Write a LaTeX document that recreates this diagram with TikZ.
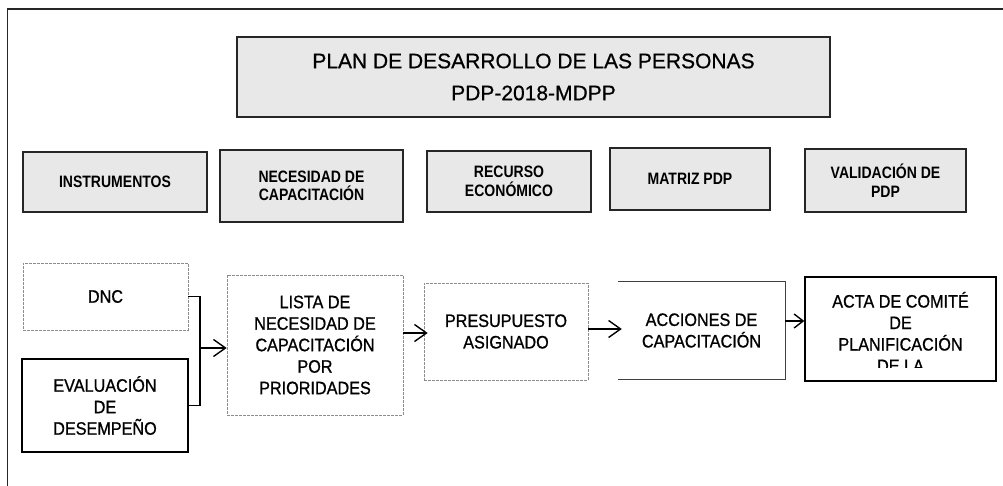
\documentclass[tikz,border=0pt]{standalone}
\usepackage{fontspec}
\setmainfont{Liberation Sans}
\newfontfamily\narrowsans[FakeStretch=0.85]{Liberation Sans}
\newfontfamily\lownarrow[FakeStretch=0.9,FakeBold=0.9]{Liberation Sans}
\newfontfamily\titlefont[FakeBold=0.7]{Liberation Sans}
\usetikzlibrary{arrows.meta}
\begin{document}
\begin{tikzpicture}[x=1pt,y=-1pt,
  hdrbox/.style={draw=black!85,line width=1.5pt,fill=black!9,inner sep=0pt,align=center,
    font=\narrowsans\bfseries\fontsize{16.5}{18.5}\selectfont},
  titlebox/.style={draw=black!85,line width=1.5pt,fill=black!9,inner sep=0pt,align=center,
    font=\titlefont\fontsize{21}{32}\selectfont},
  lightbox/.style={draw=black!45,line width=0.6pt,dash pattern=on 3pt off 1pt,inner sep=0pt,align=center,
    font=\lownarrow\fontsize{18}{21.5}\selectfont},
  solidbox/.style={draw=black,line width=1.5pt,inner sep=0pt,align=center,
    font=\lownarrow\fontsize{18}{21.5}\selectfont},
  plainbox/.style={inner sep=0pt,align=center,font=\lownarrow\fontsize{18}{21.5}\selectfont},
  arr/.style={line width=1.4pt,-{Straight Barb[length=12pt,width=17pt]}},
  arrsmall/.style={line width=1.4pt,-{Straight Barb[length=9pt,width=14pt]}}
]
\useasboundingbox (0,0) rectangle (1003,486);
\fill[white] (0,0) rectangle (1003,486);
\draw[line width=1.4pt,black!85] (7.5,9) rectangle (1015,500);

% title
\node[titlebox,minimum width=593,minimum height=80] (title) at (533.5,77)
  {PLAN DE DESARROLLO DE LAS PERSONAS\\PDP-2018-MDPP};

% header row
\node[hdrbox,minimum width=184,minimum height=60] (instr) at (115,182) {INSTRUMENTOS};
\node[hdrbox,minimum width=183,minimum height=72] (nec) at (311.5,186) {NECESIDAD DE\\CAPACITACIÓN};
\node[hdrbox,minimum width=164,minimum height=61] (rec) at (509,181.5) {RECURSO\\ECONÓMICO};
\node[hdrbox,minimum width=160,minimum height=62] (mat) at (690,179) {MATRIZ PDP};
\node[hdrbox,minimum width=161,minimum height=63] (val) at (885.5,180.5) {VALIDACIÓN DE\\PDP};

% lower row
\node[lightbox,minimum width=165,minimum height=67] (dnc) at (105.5,296.5) {DNC};
\node[solidbox,minimum width=166,minimum height=93] (eval) at (105,405.5) {EVALUACIÓN\\DE\\DESEMPEÑO};
\node[lightbox,minimum width=176,minimum height=140] (lista) at (315,345)
  {LISTA DE\\NECESIDAD DE\\CAPACITACIÓN\\POR\\PRIORIDADES};
\node[lightbox,minimum width=164,minimum height=97] (pres) at (506,331.5) {PRESUPUESTO\\ASIGNADO};
\node[plainbox,minimum width=167,minimum height=97] (acc) at (701.5,330.5) {ACCIONES DE\\CAPACITACIÓN};
\draw[black!75,line width=0.9pt] (acc.north west) -- (acc.north east) -- (acc.south east) -- (acc.south west);
\node[solidbox,minimum width=191,minimum height=104] (acta) at (900.5,329) {};
\begin{scope}
  \clip (806,278) rectangle (995,367);
  \node[plainbox] (actatext) at (900.5,332) {ACTA DE COMITÉ\\DE\\PLANIFICACIÓN\\DE LA};
\end{scope}

% bracket and arrows
\coordinate (bk) at (200,348);
\draw[line width=1.6pt] (dnc.east) -| (bk) |- (eval.east);
\draw[arr] (bk) -- (bk -| lista.west);
\draw[arr] (lista.east |- 0,333) -- ([xshift=4pt]pres.west |- 0,333);
\draw[arr] (pres.east |- 0,329) -- ([xshift=4pt]acc.west |- 0,329);
\draw[arrsmall] (acc.east |- 0,321) -- (acta.west |- 0,321);
\end{tikzpicture}
\end{document}
